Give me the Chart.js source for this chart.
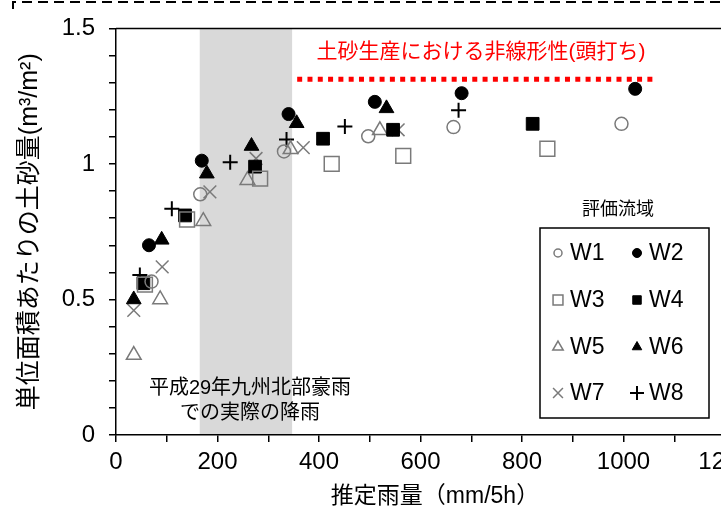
<!DOCTYPE html>
<html lang="ja">
<head>
<meta charset="utf-8">
<title>推定雨量と単位面積あたりの土砂量</title>
<script src="https://cdn.jsdelivr.net/npm/chart.js@4.4.1/dist/chart.umd.min.js"></script>
<style>
  html, body { margin: 0; padding: 0; background: #fff; overflow: hidden; }
  #wrap { position: relative; width: 780px; height: 518px; }
</style>
</head>
<body>
<div id="wrap"><canvas id="chart"></canvas></div>
<script>
// ===== Data =====
// [推定雨量 mm/5h, 単位面積あたりの土砂量 m3/m2]
const w1 = [[70, 0.566], [166, 0.888], [331, 1.046], [497, 1.102], [665, 1.136], [996, 1.148]];
const w2 = [[65, 0.70], [169, 1.012], [340, 1.184], [510, 1.229], [681, 1.261], [1023, 1.277]];
const w3 = [[57, 0.555], [140, 0.795], [284, 0.946], [425, 1.0], [566, 1.03], [850, 1.056]];
const w4 = [[54, 0.56], [136, 0.81], [274, 0.99], [408, 1.093], [546, 1.126], [821, 1.148]];
const w5 = [[35, 0.295], [87, 0.50], [172, 0.789], [259, 0.94], [344, 1.054], [520, 1.124]];
const w6 = [[35, 0.50], [90, 0.72], [179, 0.964], [267, 1.066], [356, 1.150], [533, 1.205]];
const w7 = [[35, 0.46], [91, 0.62], [185, 0.897], [276, 1.02], [369, 1.06], [556, 1.126]];
const w8 = [[47, 0.59], [110, 0.835], [225, 1.006], [336, 1.090], [451, 1.138], [675, 1.198]];

const seriesNames = ['W1', 'W2', 'W3', 'W4', 'W5', 'W6', 'W7', 'W8'];
const xTickLabels = [0, 200, 400, 600, 800, 1000, 1200];
const yTickLabels = [0, 0.5, 1, 1.5];

// shaded band: actual rainfall of the 2017 northern Kyushu heavy rain
const bandRange = [165, 347];
// red dotted "plateau" line
const plateauX = [357, 1062];
const plateauY = 1.312;

const FONT = "'Liberation Sans', 'Noto Sans CJK JP', sans-serif";
const GREY = '#7a7a7a';

// marker looks, same order as seriesNames
const markers = [
  { style: 'circle',   r: 6.5,  fill: false, color: GREY,   lw: 1.5, lr: 4 },
  { style: 'circle',   r: 6.5,  fill: true,  color: '#000', lw: 1,   lr: 4.5 },
  { style: 'rect',     r: 10.5, fill: false, color: GREY,   lw: 1.5, lr: 7 },
  { style: 'rect',     r: 9,    fill: true,  color: '#000', lw: 1,   lr: 6 },
  { style: 'triangle', r: 8.5,  fill: false, color: GREY,   lw: 1.5, lr: 6 },
  { style: 'triangle', r: 8.5,  fill: true,  color: '#000', lw: 1,   lr: 5.5 },
  { style: 'crossRot', r: 9,    fill: false, color: GREY,   lw: 1.5, lr: 7 },
  { style: 'cross',    r: 7.5,  fill: false, color: '#000', lw: 2,   lr: 7 }
];

const seriesData = [w1, w2, w3, w4, w5, w6, w7, w8];

const datasets = seriesData.map((pts, i) => {
  const m = markers[i];
  return {
    label: seriesNames[i],
    data: pts.map(p => ({ x: p[0], y: p[1] })),
    pointStyle: m.style,
    pointRadius: m.r,
    pointBorderWidth: m.lw,
    pointBorderColor: m.color,
    pointBackgroundColor: m.fill ? m.color : 'rgba(0,0,0,0)',
    showLine: false,
    order: i
  };
});

const pickLabel = (list, v) => {
  const hit = list.find(t => Math.abs(t - v) < 1e-6);
  return hit === undefined ? '' : String(hit);
};

// ===== Extra drawing: band, plateau line, notes, legend box =====
const overlay = {
  id: 'overlay',
  beforeDraw(chart) {
    const { ctx, chartArea, scales: { x } } = chart;
    ctx.save();
    ctx.fillStyle = '#fff';
    ctx.fillRect(0, 0, chart.width, chart.height);
    const l = x.getPixelForValue(bandRange[0]);
    const r = x.getPixelForValue(bandRange[1]);
    ctx.fillStyle = '#d9d9d9';
    ctx.fillRect(l, chartArea.top, r - l, chartArea.bottom - chartArea.top);

    // top frame of the plot
    ctx.strokeStyle = '#000';
    ctx.lineWidth = 1.5;
    ctx.beginPath();
    ctx.moveTo(chartArea.left, chartArea.top);
    ctx.lineTo(chartArea.right, chartArea.top);
    ctx.stroke();

    // dashed frame of the figure
    ctx.lineWidth = 2;
    ctx.setLineDash([10, 6]);
    ctx.beginPath();
    ctx.moveTo(13, 9);
    ctx.lineTo(13, 2);
    ctx.lineTo(chart.width, 2);
    ctx.stroke();
    ctx.restore();
  },
  afterDatasetsDraw(chart) {
    const { ctx, scales: { x, y } } = chart;
    ctx.save();

    // plateau line
    ctx.strokeStyle = '#ff0000';
    ctx.lineWidth = 5;
    ctx.setLineDash([5, 5.3]);
    ctx.beginPath();
    ctx.moveTo(x.getPixelForValue(plateauX[0]), y.getPixelForValue(plateauY));
    ctx.lineTo(x.getPixelForValue(plateauX[1]), y.getPixelForValue(plateauY));
    ctx.stroke();
    ctx.setLineDash([]);

    ctx.textAlign = 'center';
    ctx.textBaseline = 'middle';
    ctx.fillStyle = '#ff0000';
    ctx.font = '21px ' + FONT;
    ctx.fillText('土砂生産における非線形性(頭打ち)', 481, 52);

    ctx.fillStyle = '#000';
    ctx.font = '20px ' + FONT;
    ctx.fillText('平成29年九州北部豪雨', 250, 388);
    ctx.fillText('での実際の降雨', 250, 413);

    // x axis title, sits right of the scale centre in the figure
    ctx.font = '23px ' + FONT;
    ctx.fillText('推定雨量（mm/5h）', 435, 497);

    // legend
    ctx.font = '18px ' + FONT;
    ctx.fillText('評価流域', 618, 210);
    ctx.lineWidth = 1.5;
    ctx.strokeStyle = '#000';
    ctx.strokeRect(540, 228, 169, 190);

    const rowsY = [253, 300, 347, 393];
    const colX = [558, 637];
    ctx.font = '23px ' + FONT;
    ctx.textAlign = 'left';
    seriesNames.forEach((name, i) => {
      const m = markers[i];
      const cx = colX[i % 2];
      const cy = rowsY[Math.floor(i / 2)];
      ctx.strokeStyle = m.color;
      ctx.fillStyle = m.fill ? m.color : 'rgba(0,0,0,0)';
      ctx.lineWidth = m.lw;
      Chart.helpers.drawPoint(ctx, { pointStyle: m.style, radius: m.lr, rotation: 0, borderWidth: m.lw }, cx, cy);
      ctx.fillStyle = '#000';
      ctx.fillText(name, cx + 12, cy + 1);
    });
    ctx.restore();
  }
};

Chart.defaults.font.family = FONT;
Chart.defaults.color = '#000';

new Chart(document.getElementById('chart'), {
  type: 'scatter',
  data: { datasets },
  plugins: [overlay],
  options: {
    responsive: true,
    maintainAspectRatio: false,
    animation: false,
    events: [],
    layout: { padding: { top: 20, right: 55, left: 0, bottom: 0 } },
    plugins: {
      legend: { display: false },
      tooltip: { enabled: false }
    },
    scales: {
      x: {
        type: 'linear',
        min: 0,
        max: 1200,
        afterFit: s => { s.height = 83; },
        border: { color: '#000', width: 1.5 },
        grid: { drawOnChartArea: false, color: '#000', tickLength: 7, lineWidth: 1.5 },
        ticks: {
          stepSize: 100,
          autoSkip: false,
          maxRotation: 0,
          padding: 6,
          font: { size: 24 },
          callback: v => pickLabel(xTickLabels, v)
        }
      },
      y: {
        type: 'linear',
        min: 0,
        max: 1.5,
        afterFit: s => { s.width = 116; },
        border: { color: '#000', width: 1.5 },
        grid: { drawOnChartArea: false, color: '#000', tickLength: 7, lineWidth: 1.5 },
        ticks: {
          stepSize: 0.1,
          autoSkip: false,
          padding: 14,
          font: { size: 24 },
          callback: v => pickLabel(yTickLabels, v)
        },
        title: {
          display: true,
          text: '単位面積あたりの土砂量(m³/m²)',
          font: { size: 25 },
          padding: { top: 15, bottom: 0 }
        }
      }
    }
  }
});
</script>
</body>
</html>
